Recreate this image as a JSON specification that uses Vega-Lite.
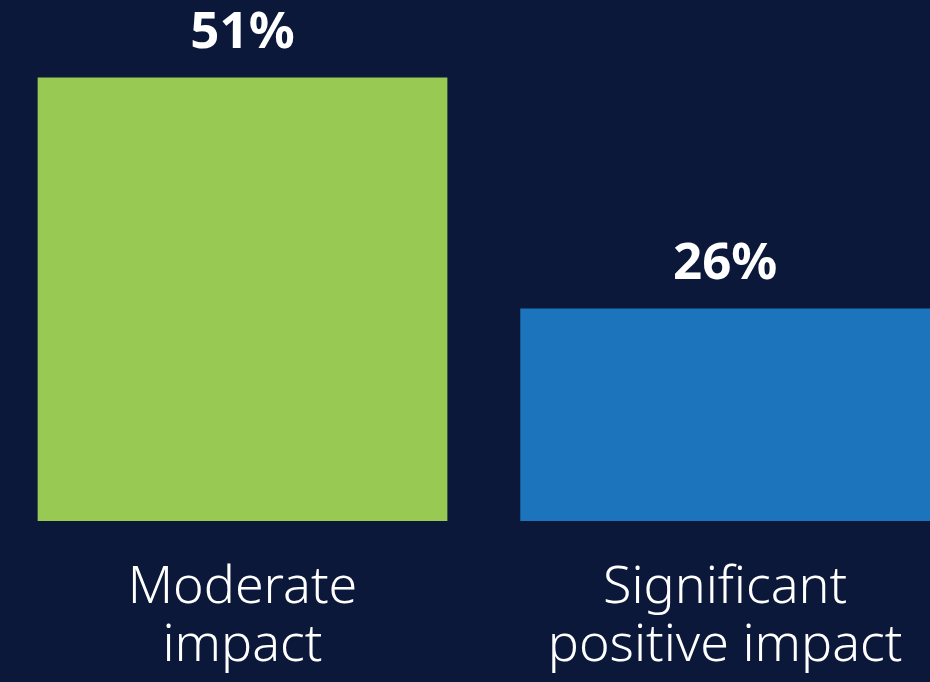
{
  "$schema": "https://vega.github.io/schema/vega-lite/v6.json",
  "width": 930,
  "height": 521,
  "padding": {"top": 0, "left": 0, "right": 0, "bottom": 161},
  "autosize": {"type": "none"},
  "background": "#0b1839",
  "data": {"values": [
    {"category": "Moderate impact", "value": 51, "label": "51%"},
    {"category": "Significant positive impact", "value": 26, "label": "26%"}
  ]},
  "encoding": {
    "x": {
      "field": "category", "type": "nominal", "sort": null,
      "scale": {"paddingInner": 0.151, "paddingOuter": 0.039, "align": 1},
      "axis": {
        "title": null, "domain": false, "ticks": false, "labelAngle": 0,
        "labelFont": "Noto Sans", "labelFontSize": 52, "labelFontWeight": 300, "labelColor": "#ffffff",
        "labelLineHeight": 58, "labelPadding": 40, "labelLimit": 0,
        "labelExpr": "datum.label == 'Moderate impact' ? ['Moderate', 'impact'] : ['Significant', 'positive impact']"
      }
    },
    "y": {
      "field": "value", "type": "quantitative",
      "scale": {"domain": [3, 59.4], "zero": false, "clamp": true},
      "axis": null
    }
  },
  "layer": [
    {
      "mark": {"type": "bar"},
      "encoding": {
        "color": {
          "field": "category", "type": "nominal",
          "scale": {"range": ["#97c953", "#1c75bc"]},
          "legend": null
        }
      }
    },
    {
      "mark": {"type": "text", "baseline": "alphabetic", "dy": -30, "font": "Noto Sans", "fontWeight": "bold", "fontSize": 51, "color": "#ffffff"},
      "encoding": {"text": {"field": "label"}}
    }
  ],
  "config": {"view": {"stroke": null}}
}
